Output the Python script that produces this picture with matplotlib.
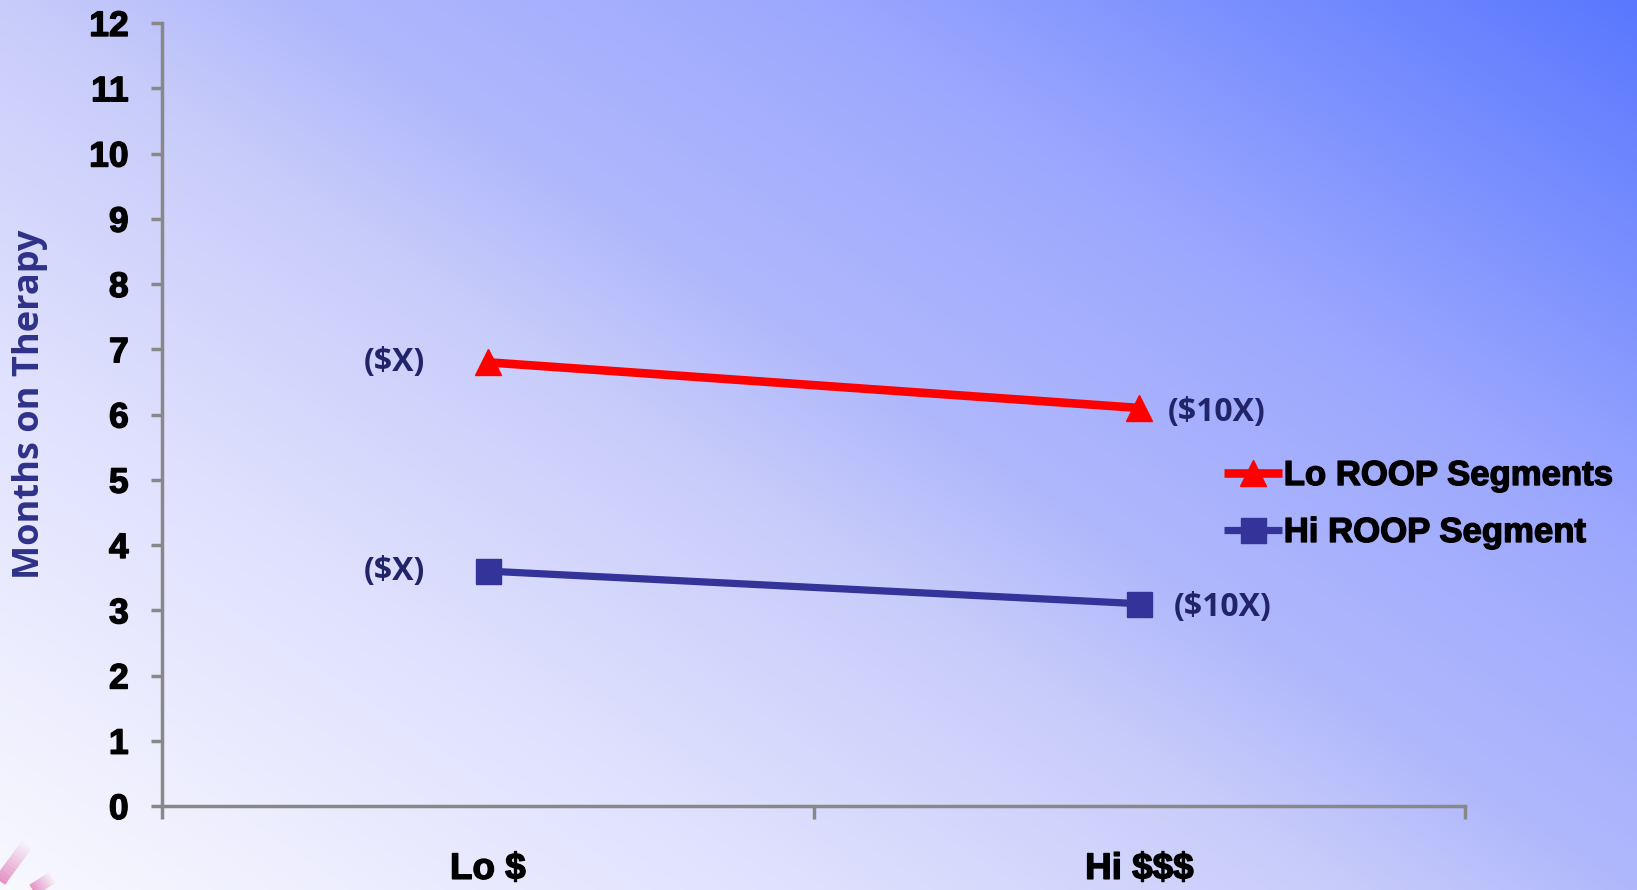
import numpy as np
import matplotlib
matplotlib.use("Agg")
import matplotlib.pyplot as plt
import matplotlib.patheffects as pe
from matplotlib.colors import LinearSegmentedColormap

# ---- data ----
categories = ["Lo $", "Hi $$$"]
lo_roop = [6.8, 6.1]
hi_roop = [3.6, 3.1]
lo_point_labels = ["($X)", "($10X)"]
hi_point_labels = ["($X)", "($10X)"]
series_names = ["Lo ROOP Segments", "Hi ROOP Segment"]
y_ticks = list(range(0, 13))
y_label = "Months on Therapy"

W, H = 1637, 890
fig = plt.figure(figsize=(W / 100, H / 100), dpi=100)

# ---- gradient background ----
bg = fig.add_axes([0, 0, 1, 1], zorder=-10)
bg.set_axis_off()
xn = np.linspace(0, 1, 400)[None, :]
yn = np.linspace(1, 0, 220)[:, None]
s = 0.55 * xn + 0.45 * yn
cmap = LinearSegmentedColormap.from_list(
    "bgc",
    [(0.0, "#f8f8ff"), (0.275, "#dfe0fe"), (0.45, "#c8ccfa"),
     (0.55, "#b0b8fc"), (0.725, "#9ca8fe"), (1.0, "#5a78ff")])
bg.imshow(s, cmap=cmap, aspect="auto", extent=[0, 1, 0, 1], vmin=0, vmax=1,
          interpolation="bilinear")
bg.set_xlim(0, 1)
bg.set_ylim(0, 1)
# pink decorative streaks in bottom-left corner
for (x0, y0, x1, y1, lw) in [(0.0, 0.01, 0.016, 0.05, 9), (0.02, 0.0, 0.032, 0.014, 9)]:
    n = 12
    xs = np.linspace(x0, x1, n + 1)
    ys = np.linspace(y0, y1, n + 1)
    for i in range(n):
        bg.plot(xs[i:i + 2], ys[i:i + 2], color="#e070b0",
                alpha=0.75 * (1 - i / n), lw=lw, solid_capstyle="butt")

# ---- main axes ----
left = 162 / W
right = 1465 / W
bottom = 1 - 806 / H
top = 1 - 23 / H
ax = fig.add_axes([left, bottom, right - left, top - bottom])
ax.patch.set_alpha(0)

xpos = [0.5, 1.5]
ax.plot(xpos, lo_roop, color="#ff0000", lw=6.2, marker="^", ms=19,
        label=series_names[0], zorder=3, solid_capstyle="butt")
ax.plot(xpos, hi_roop, color="#333399", lw=5.2, marker="s", ms=18,
        label=series_names[1], zorder=3, solid_capstyle="butt")

ax.set_xlim(0, 2)
ax.set_ylim(0, 12)
ax.set_yticks(y_ticks)
ax.set_xticks([0, 1, 2])
ax.set_xticklabels([])
ax.set_xticks(xpos, minor=True)
ax.set_xticklabels(categories, minor=True)
ax.tick_params(axis="x", which="minor", length=0, pad=33,
               labelsize=26.5)
ax.tick_params(axis="x", which="major", length=9, width=2.5, color="#888888")
ax.tick_params(axis="y", length=8, width=2.5, color="#888888", pad=16,
               labelsize=25.5)
stroke = [pe.withStroke(linewidth=1.0, foreground="black")]
for lab in ax.get_xticklabels(minor=True) + ax.get_yticklabels():
    lab.set_fontfamily("Liberation Sans")
    lab.set_fontweight("bold")
    lab.set_color("black")
    lab.set_path_effects(stroke)

for side in ["top", "right"]:
    ax.spines[side].set_visible(False)
for side in ["left", "bottom"]:
    ax.spines[side].set_color("#888888")
    ax.spines[side].set_linewidth(2.5)

ax.set_ylabel(y_label, fontsize=26, fontfamily="Open Sans", fontweight="bold",
              color="#2e3188")
ax.yaxis.set_label_coords(-0.101, 0.513)
ax.yaxis.label.set_va("center")

# point labels
lab_kw = dict(fontsize=23, fontfamily="Open Sans", fontweight="bold",
              color="#22246a", ha="center", va="center",
              textcoords="offset points")
ax.annotate(lo_point_labels[0], (xpos[0], lo_roop[0]), xytext=(-67, 0), **lab_kw)
ax.annotate(lo_point_labels[1], (xpos[1], lo_roop[1]), xytext=(56, -3.5), **lab_kw)
ax.annotate(hi_point_labels[0], (xpos[0], hi_roop[0]), xytext=(-67, 0), **lab_kw)
ax.annotate(hi_point_labels[1], (xpos[1], hi_roop[1]), xytext=(60, -3), **lab_kw)

leg = ax.legend(loc="upper left", bbox_to_anchor=(1224 / W, 1 - 459 / H),
                bbox_transform=fig.transFigure, frameon=False,
                prop={"family": "Liberation Sans", "weight": "bold", "size": 25},
                handlelength=1.67, handletextpad=0.05, borderpad=0,
                borderaxespad=0, labelspacing=0.69)
for t in leg.get_texts():
    t.set_path_effects(stroke)

fig.savefig("out.png", dpi=100)
